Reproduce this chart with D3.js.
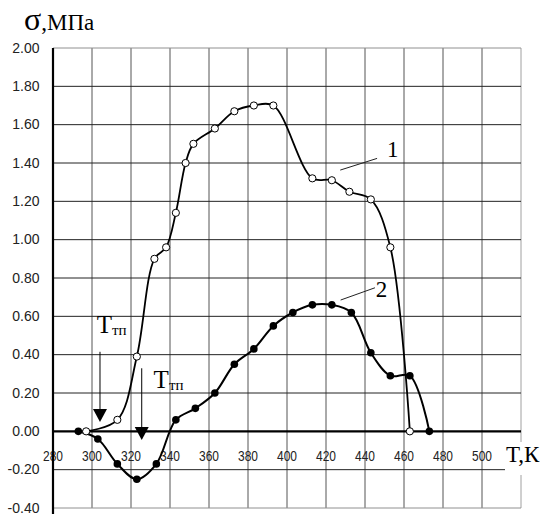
<!DOCTYPE html>
<html><head><meta charset="utf-8">
<script src="https://cdn.jsdelivr.net/npm/d3@7"></script>
<style>body{margin:0;background:#fff}svg{display:block}</style>
</head><body>
<script>
// ---- data ----
const xTicks = [280, 300, 320, 340, 360, 380, 400, 420, 440, 460, 480, 500];
const yTicks = [-0.4, -0.2, 0.0, 0.2, 0.4, 0.6, 0.8, 1.0, 1.2, 1.4, 1.6, 1.8, 2.0];
const t1 = [297, 313, 323, 332, 338, 343, 348, 352, 363, 373, 383, 393, 413, 423, 432, 443, 453, 463];
const s1 = [0.00, 0.06, 0.39, 0.90, 0.96, 1.14, 1.40, 1.50, 1.58, 1.67, 1.70, 1.70, 1.32, 1.31, 1.25, 1.21, 0.96, 0.00];
const t2 = [293, 303, 313, 323, 333, 343, 353, 363, 373, 383, 393, 403, 413, 423, 433, 443, 453, 463, 473];
const s2 = [0.00, -0.04, -0.17, -0.25, -0.17, 0.06, 0.12, 0.20, 0.35, 0.43, 0.55, 0.62, 0.66, 0.66, 0.62, 0.41, 0.29, 0.29, 0.00];
const curveLabels = ["1", "2"];
const labelPos = [[454.2, 1.43], [448.5, 0.70]];
const leaders = [[[427.3, 1.363], [446.2, 1.424]], [[427.5, 0.685], [445.1, 0.749]]];
const arrowT = [304.1, 325.5];
const arrowTop = [0.415, 0.329];
const arrowTip = [0.049, -0.045];
const ttpPos = [[302.4, 0.513], [331.6, 0.226]];

// ---- layout ----
const W = 544, H = 514;
const x = d3.scaleLinear().domain([280, 520]).range([53, 521]);
const y = d3.scaleLinear().domain([-0.4, 2.0]).range([508, 48]);
const svg = d3.select("body").append("svg").attr("width", W).attr("height", H);
const serif = "'Liberation Serif','DejaVu Serif',serif";
const sans = "'Liberation Sans',Arial,sans-serif";

// grid
const xGrid = d3.range(300, 521, 20);
svg.append("g").selectAll("line").data(xGrid).join("line")
  .attr("x1", d => x(d)).attr("x2", d => x(d))
  .attr("y1", y(2.0)).attr("y2", y(-0.4))
  .attr("stroke", d => d === 520 ? "#a0a0a0" : "#555").attr("stroke-width", 1);
svg.append("g").selectAll("line").data(yTicks.filter(v => v !== 0)).join("line")
  .attr("x1", x(280)).attr("x2", x(520))
  .attr("y1", d => y(d)).attr("y2", d => y(d))
  .attr("stroke", d => (d === 2.0 || d === -0.4) ? "#909090" : "#222").attr("stroke-width", 1);

// y tick labels
svg.append("g").selectAll("text").data(yTicks).join("text")
  .attr("x", 39.5).attr("y", d => y(d) + 4.5)
  .attr("text-anchor", "end").attr("font-family", sans).attr("font-size", 14).attr("fill", "#222")
  .text(d => d.toFixed(2));

// x tick labels
svg.append("g").selectAll("text").data(xTicks).join("text")
  .attr("x", d => x(d)).attr("y", y(0) + 29.5)
  .attr("text-anchor", "middle").attr("font-family", sans).attr("font-size", 14).attr("fill", "#222")
  .attr("textLength", 20).attr("lengthAdjust", "spacingAndGlyphs")
  .text(d => d);

// axes
svg.append("line").attr("x1", x(280)).attr("x2", x(520)).attr("y1", y(0)).attr("y2", y(0))
  .attr("stroke", "#000").attr("stroke-width", 2.2);
svg.append("line").attr("x1", x(280)).attr("x2", x(280)).attr("y1", y(2.0)).attr("y2", H)
  .attr("stroke", "#000").attr("stroke-width", 2.2);

// axis titles
const tk = svg.append("g");
tk.append("rect").attr("x", 505).attr("y", 442).attr("width", 39).attr("height", 33).attr("fill", "#fff");
tk.append("text").attr("x", 506).attr("y", 462).attr("font-family", serif).attr("font-size", 23).attr("fill", "#000").text("T,К");
const st = svg.append("text").attr("x", 24).attr("y", 30).attr("font-family", serif).attr("fill", "#000");
st.append("tspan").attr("font-size", 32).text("σ");
st.append("tspan").attr("font-size", 23).text(",МПа");

// curves
const line = d3.line().x(d => x(d[0])).y(d => y(d[1])).curve(d3.curveCatmullRom.alpha(0.5));
const d1 = t1.map((t, i) => [t, s1[i]]);
const d2 = t2.map((t, i) => [t, s2[i]]);
svg.append("path").attr("d", line(d1)).attr("fill", "none").attr("stroke", "#000").attr("stroke-width", 1.8);
svg.append("path").attr("d", line(d2)).attr("fill", "none").attr("stroke", "#000").attr("stroke-width", 2);
svg.append("g").selectAll("circle").data(d1).join("circle")
  .attr("cx", d => x(d[0])).attr("cy", d => y(d[1])).attr("r", 3.6)
  .attr("fill", "#fff").attr("stroke", "#000").attr("stroke-width", 1);
svg.append("g").selectAll("circle").data(d2).join("circle")
  .attr("cx", d => x(d[0])).attr("cy", d => y(d[1])).attr("r", 3.8)
  .attr("fill", "#000");

// curve labels + leaders
svg.append("g").selectAll("line").data(leaders).join("line")
  .attr("x1", d => x(d[0][0])).attr("y1", d => y(d[0][1]))
  .attr("x2", d => x(d[1][0])).attr("y2", d => y(d[1][1]))
  .attr("stroke", "#222").attr("stroke-width", 1);
svg.append("g").selectAll("text").data(curveLabels).join("text")
  .attr("x", (d, i) => x(labelPos[i][0])).attr("y", (d, i) => y(labelPos[i][1]))
  .attr("text-anchor", "middle").attr("font-family", serif).attr("font-size", 23).attr("fill", "#000")
  .text(d => d);

// arrows
arrowT.forEach((t, i) => {
  const ax = x(t), yTop = y(arrowTop[i]), yTip = y(arrowTip[i]);
  svg.append("line").attr("x1", ax).attr("x2", ax).attr("y1", yTop).attr("y2", yTip - 12)
    .attr("stroke", "#000").attr("stroke-width", 1);
  svg.append("path").attr("d", `M${ax - 7},${yTip - 13}L${ax + 7},${yTip - 13}L${ax},${yTip}Z`).attr("fill", "#000");
  const tt = svg.append("text").attr("x", x(ttpPos[i][0])).attr("y", y(ttpPos[i][1]))
    .attr("font-family", serif).attr("fill", "#000");
  tt.append("tspan").attr("font-size", 25).text("T");
  tt.append("tspan").attr("font-size", 15).attr("dy", 2).text("тп");
});
</script>
</body></html>
